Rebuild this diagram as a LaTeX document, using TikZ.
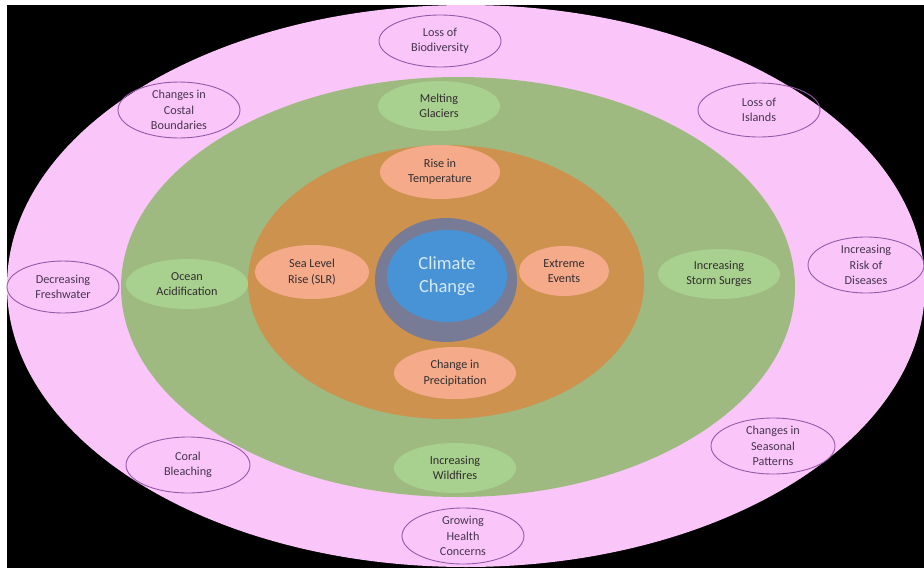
\documentclass[tikz,border=0pt]{standalone}
\usepackage{fontspec}
\setmainfont{Carlito}
\usetikzlibrary{shapes.geometric}

\definecolor{pinkzone}{RGB}{250,198,250}
\definecolor{greenzone}{RGB}{158,186,128}
\definecolor{orangezone}{RGB}{204,146,78}
\definecolor{grayring}{RGB}{120,123,150}
\definecolor{bluecore}{RGB}{72,146,214}
\definecolor{corelabel}{RGB}{214,234,248}
\definecolor{peach}{RGB}{245,170,138}
\definecolor{leaf}{RGB}{168,208,142}
\definecolor{outline}{RGB}{150,88,168}
\definecolor{darktext}{RGB}{50,46,48}
\definecolor{plumtext}{RGB}{70,52,76}

\tikzset{
  zone/.style={ellipse, inner sep=0pt, draw=none},
  bubble/.style={ellipse, inner sep=0pt, align=center,
    font=\fontsize{12.2}{15.5}\selectfont, text=darktext},
  cause/.style={bubble, fill=peach},
  effect/.style={bubble, fill=leaf},
  impact/.style={bubble, draw=outline, line width=0.9pt, text=plumtext},
}

\begin{document}
\begin{tikzpicture}[x=1pt,y=-1pt]
  % canvas: white frame with black field
  \fill[white] (0,0) rectangle (924,568);
  \fill[black] (7,5) rectangle (924,568);
  \useasboundingbox (0,0) rectangle (924,568);

  % concentric zones
  \node[zone, fill=pinkzone, minimum width=918pt, minimum height=562pt] (outer) at (466,286) {};
  \node[zone, fill=greenzone, minimum width=674pt, minimum height=420pt] (middle) at (458,287) {};
  \node[zone, fill=orangezone, minimum width=396pt, minimum height=274pt] (inner) at (446,282) {};
  \node[zone, fill=grayring, minimum width=142pt, minimum height=124pt] (ring) at (446,280) {};
  \node[zone, fill=bluecore, minimum width=120pt, minimum height=92pt, align=center,
        text=corelabel, font=\fontsize{18.5}{23}\selectfont] (core) at (447,276) {Climate\\Change};

  % direct drivers
  \node[cause, minimum width=120pt, minimum height=54pt] (temp) at (440,172) {Rise in\\Temperature};
  \node[cause, minimum width=114pt, minimum height=54pt] (slr) at (312,272) {Sea Level\\Rise (SLR)};
  \node[cause, minimum width=90pt, minimum height=50pt] (extreme) at (564,271) {Extreme\\Events};
  \node[cause, minimum width=122pt, minimum height=52pt] (precip) at (455,373) {Change in\\Precipitation};

  % physical effects
  \node[effect, minimum width=122pt, minimum height=50pt] (glaciers) at (439,106) {Melting\\Glaciers};
  \node[effect, minimum width=122pt, minimum height=50pt] (acid) at (187,284) {Ocean\\Acidification};
  \node[effect, minimum width=122pt, minimum height=50pt] (storm) at (719,274) {Increasing\\Storm Surges};
  \node[effect, minimum width=122pt, minimum height=50pt] (fire) at (455,468) {Increasing\\Wildfires};

  % wider impacts
  \node[impact, minimum width=122pt, minimum height=52pt] (bio) at (440,41) {Loss of\\Biodiversity};
  \node[impact, minimum width=122pt, minimum height=54pt] (coast) at (179,110) {Changes in\\Costal\\Boundaries};
  \node[impact, minimum width=122pt, minimum height=54pt] (islands) at (759,110) {Loss of\\Islands};
  \node[impact, minimum width=112pt, minimum height=52pt] (fresh) at (63,287) {Decreasing\\Freshwater};
  \node[impact, minimum width=116pt, minimum height=56pt] (disease) at (866,265) {Increasing\\Risk of\\Diseases};
  \node[impact, minimum width=124pt, minimum height=56pt] (coral) at (188,465) {Coral\\Bleaching};
  \node[impact, minimum width=124pt, minimum height=56pt] (season) at (773,446) {Changes in\\Seasonal\\Patterns};
  \node[impact, minimum width=122pt, minimum height=56pt] (health) at (463,536) {Growing\\Health\\Concerns};
\end{tikzpicture}
\end{document}
